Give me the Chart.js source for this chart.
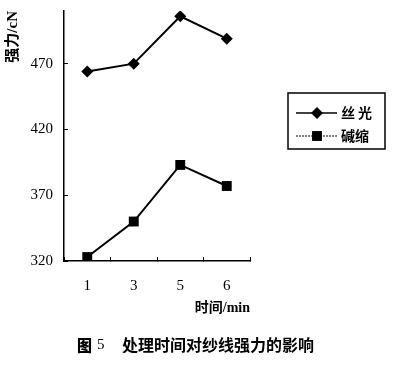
<!DOCTYPE html>
<html>
<head>
<meta charset="utf-8">
<script src="https://cdn.jsdelivr.net/npm/chart.js@4"></script>
<style>body{margin:0;background:#fff}</style>
</head>
<body>
<canvas id="myChart" width="400" height="375"></canvas>
<script>
var times = ['1', '3', '5', '6'];
var mercerized = [464, 470, 506, 489];   // 丝光
var shrunk = [323, 350, 393, 377];       // 碱缩
var yTicks = [320, 370, 420, 470];
var seriesNames = ['丝光', '碱缩'];
var yTitle = '强力/cN';
var xTitle = '时间/min';
var caption = ['图', '5', '处理时间对纱线强力的影响'];

var serif = '"Liberation Serif", serif';
var cjk = '"Liberation Serif", "Noto Sans CJK SC", serif';

// legend box + figure caption, drawn by hand
var extras = {
  id: 'extras',
  afterDraw: function(c) {
    var ctx = c.ctx;
    ctx.save();
    ctx.strokeStyle = '#000';
    ctx.fillStyle = '#000';
    ctx.lineWidth = 1.5;
    ctx.strokeRect(288, 93, 97, 56);
    c.data.datasets.forEach(function(ds, i) {
      var y = 113 + i * 23;
      ctx.beginPath();
      ctx.setLineDash(i ? [2, 1] : []);
      ctx.lineWidth = i ? 1 : 1.5;
      ctx.moveTo(296, y);
      ctx.lineTo(337, y);
      ctx.stroke();
      ctx.setLineDash([]);
      Chart.helpers.drawPoint(ctx, {pointStyle: ds.pointStyle, radius: ds.pointRadius, borderWidth: 0}, 317, y);
      ctx.font = 'bold 14px "Noto Sans CJK SC"';
      ctx.textBaseline = 'middle';
      ctx.textAlign = 'left';
      ctx.letterSpacing = i ? '0px' : '3px';
      ctx.fillText(ds.label, 341, y);
    });
    ctx.letterSpacing = '0px';
    ctx.textBaseline = 'middle';
    ctx.font = '900 15px "Noto Sans CJK SC"';
    ctx.fillText(caption[0], 77, 345);
    ctx.font = '15px ' + serif;
    ctx.fillText(caption[1], 97, 345);
    ctx.font = 'bold 16px "Noto Sans CJK SC"';
    ctx.fillText(caption[2], 122, 345);
    ctx.restore();
  }
};

var chart = document.getElementById('myChart');
var myChart = new Chart(chart, {
  type: 'line',
  data: {
    labels: times,
    datasets: [
      {
        label: seriesNames[0],
        data: mercerized,
        borderColor: '#000',
        backgroundColor: '#000',
        borderWidth: 2,
        pointStyle: 'rectRot',
        pointRadius: 6,
        pointHoverRadius: 6,
        pointBorderWidth: 0
      },
      {
        label: seriesNames[1],
        data: shrunk,
        borderColor: '#000',
        backgroundColor: '#000',
        borderWidth: 2,
        pointStyle: 'rect',
        pointRadius: 7,
        pointHoverRadius: 7,
        pointBorderWidth: 0
      }
    ]
  },
  options: {
    responsive: false,
    animation: false,
    layout: {padding: {top: 11, right: 150, bottom: 58, left: 0}},
    plugins: {legend: {display: false}, tooltip: {enabled: false}},
    scales: {
      x: {
        offset: true,
        afterFit: function(s) { s.height = 56; },
        grid: {offset: true, drawOnChartArea: false, tickLength: -4, color: '#000', lineWidth: 1},
        border: {color: '#000', width: 1.5},
        ticks: {padding: 20, color: '#000', font: {family: serif, size: 15}},
        title: {display: true, text: xTitle, align: 'end', color: '#000',
                font: {family: cjk, size: 14, weight: 'bold'}, padding: {top: 7, bottom: 0}}
      },
      y: {
        min: 320,
        max: 510,
        afterFit: function(s) { s.width = 64; s.paddingTop = 0; s.paddingBottom = 0; },
        afterBuildTicks: function(s) { s.ticks = yTicks.map(function(v) { return {value: v}; }); },
        grid: {drawOnChartArea: false, tickLength: -4, color: '#000', lineWidth: 1},
        border: {color: '#000', width: 1.5},
        ticks: {padding: 15, color: '#000', font: {family: serif, size: 15}},
        title: {display: true, text: yTitle, align: 'end', color: '#000',
                font: {family: cjk, size: 15, weight: 'bold'}, padding: {top: 4, bottom: 0}}
      }
    }
  },
  plugins: [extras]
});
</script>
</body>
</html>
